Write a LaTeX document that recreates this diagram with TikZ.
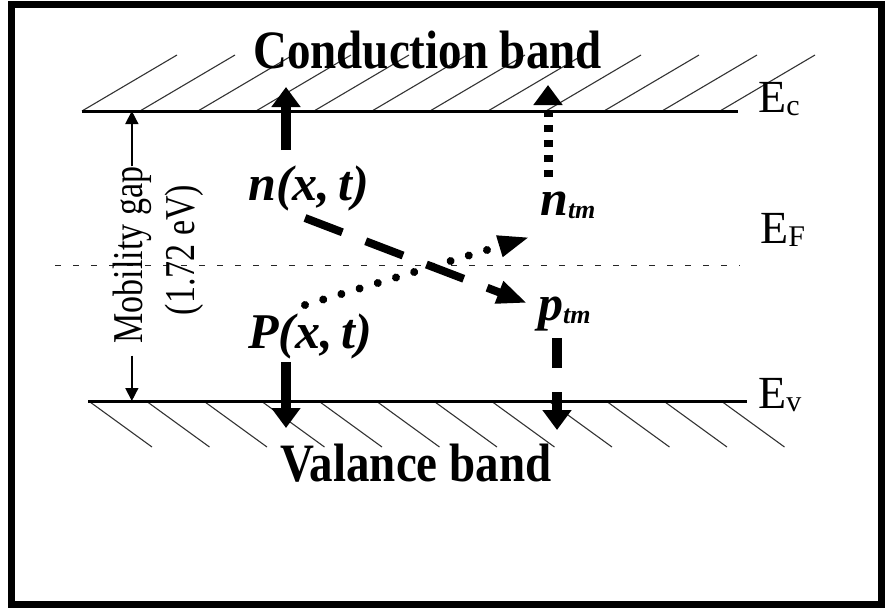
\documentclass[tikz,border=0pt]{standalone}
\usepackage{fontspec}
\setmainfont{Liberation Serif}
\usepackage{graphicx}
\usetikzlibrary{arrows.meta}

\newcommand{\lvlsub}[1]{\raisebox{-3pt}{\fontsize{30}{30}\selectfont #1}}
\newcommand{\tmsub}{\raisebox{-3pt}{\fontsize{26}{26}\selectfont tm}}

\begin{document}
\begin{tikzpicture}[x=1pt,y=-1pt,
  band/.style={draw=black,line width=3pt},
  hatch/.style={draw=black!80,line width=1.1pt},
  fermi/.style={draw=black!85,line width=1pt,dash pattern=on 6pt off 12pt},
  solidarrow/.style={line width=10pt,-{Triangle[length=20pt,width=28pt]}},
  dotarrow/.style={line width=9pt,dash pattern=on 7pt off 8pt,-{Triangle[length=20pt,width=28pt]}},
  dasharrow/.style={line width=10pt,dash pattern=on 30pt off 24pt,-{Triangle[length=20pt,width=28pt]}},
  diagdash/.style={line width=8pt,dash pattern=on 40pt off 25pt,-{Triangle[length=30pt,width=22pt]}},
  diagdot/.style={line width=8pt,line cap=round,dash pattern=on 0.01pt off 19pt,-{Triangle[length=32pt,width=20pt]}},
  gaparrow/.style={line width=1.5pt,-{Triangle[length=13pt,width=13pt]}},
  bandname/.style={font=\fontsize{47}{47}\selectfont\bfseries,inner sep=0pt,anchor=base west},
  level/.style={font=\fontsize{46}{46}\selectfont,inner sep=0pt,anchor=base west},
  carrier/.style={font=\fontsize{50}{50}\selectfont\bfseries\itshape,inner sep=0pt,anchor=base west},
  gaplabel/.style={font=\fontsize{34}{34}\selectfont,inner sep=0pt,rotate=90,anchor=base},
]

% frame
\useasboundingbox (0,0) rectangle (886,608);
\draw[line width=7pt] (11,4) rectangle (881,604);

% band edges, hatching and Fermi level
\coordinate (ecl) at (82,111);
\coordinate (ecr) at (738,111);
\coordinate (evl) at (88,401);
\coordinate (evr) at (747,401);
\coordinate (efl) at (55,265);
\coordinate (efr) at (740,265);
\foreach \x in {82,140,...,720}
  \draw[hatch] (\x,111) -- ++(95,-56);
\foreach \x in {90,147.5,...,723}
  \draw[hatch] (\x,402) -- ++(62,45);
\draw[band] (ecl) -- (ecr);
\draw[band] (evl) -- (evr);
\draw[fermi] (efl) -- (efr);

% band names and levels
\node[bandname] (cband) at (253,68) {\scalebox{1}[1.15]{Conduction band}};
\node[bandname] (vband) at (280,481) {\scalebox{1}[1.15]{Valance band}};
\node[level] (ec) at (758,112) {E\lvlsub{c}};
\node[level] (ef) at (760,243) {E\lvlsub{F}};
\node[level] (ev) at (758,408) {E\lvlsub{v}};

% mobility gap
\node[gaplabel] (gap) at (142,255) {\scalebox{1}[1.25]{Mobility gap}};
\node[gaplabel] (gapval) at (194,250) {\scalebox{1}[1.25]{(1.72 eV)}};
\draw[gaparrow] (gap.east) -- (gap.east |- ecl);
\draw[gaparrow,shorten <=12pt] (gap.west) -- (gap.west |- evl);

% carriers
\node[carrier] (nxt) at (248,200) {n(x,\,t)};
\node[carrier] (pxt) at (248,348) {P(x,\,t)};
\node[carrier] (ntm) at (540,215) {n\tmsub};
\node[carrier] (ptm) at (538,320) {p\tmsub};

% transitions
\coordinate (nxt-out) at (286,150);
\coordinate (nxt-ec) at (286,87);
\coordinate (pxt-out) at (286,362);
\coordinate (pxt-ev) at (286,428);
\coordinate (ntm-out) at (548,177);
\coordinate (ntm-ec) at (548,85);
\coordinate (ptm-out) at (557,338);
\coordinate (ptm-ev) at (557,430);
\coordinate (nxt-trap) at (305,218);
\coordinate (ptm-in) at (527,303);
\coordinate (pxt-trap) at (305,305);
\coordinate (ntm-in) at (530,237);
\draw[solidarrow] (nxt-out) -- (nxt-ec);
\draw[solidarrow] (pxt-out) -- (pxt-ev);
\draw[dotarrow] (ntm-out) -- (ntm-ec);
\draw[dasharrow] (ptm-out) -- (ptm-ev);
\draw[diagdash] (nxt-trap) -- (ptm-in);
\draw[diagdot] (pxt-trap) -- (ntm-in);

\end{tikzpicture}
\end{document}
